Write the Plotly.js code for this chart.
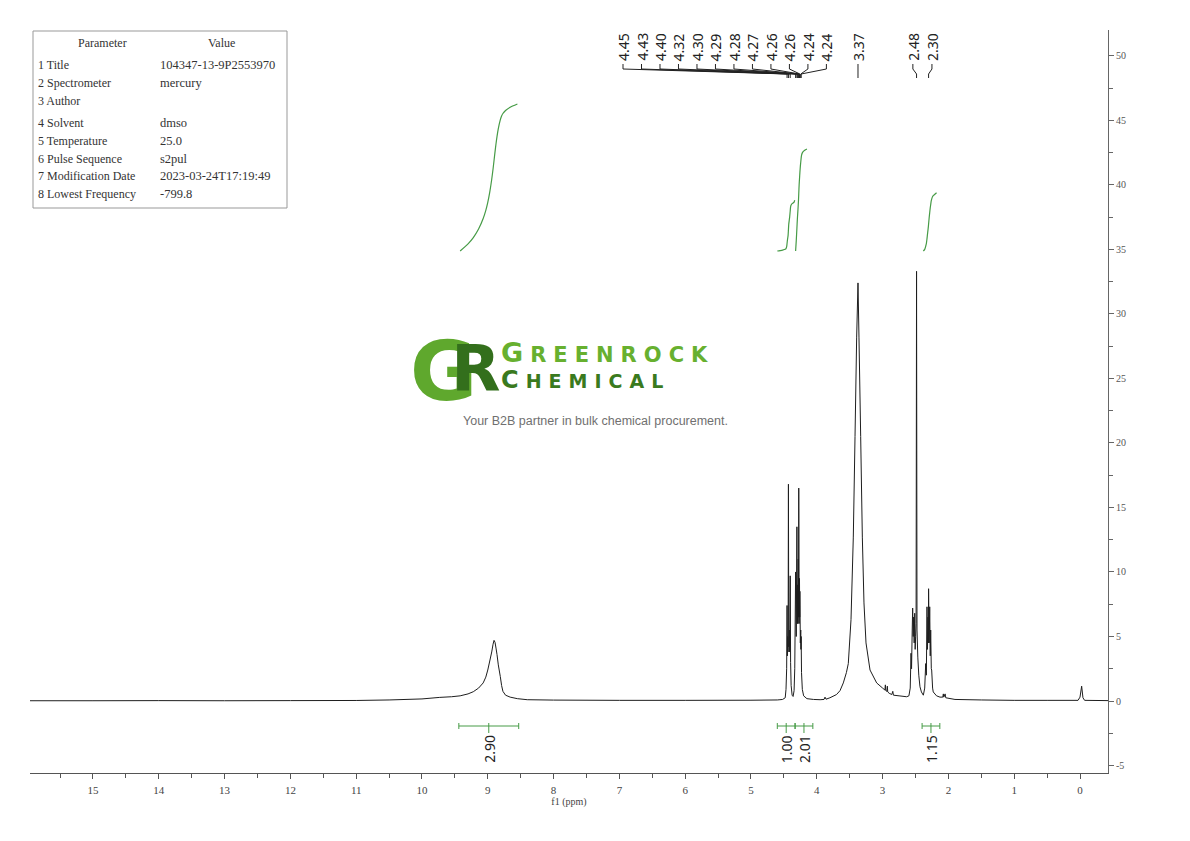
<!DOCTYPE html>
<html><head><meta charset="utf-8">
<script src="https://cdn.plot.ly/plotly-3.0.1.min.js"></script>
<style>html,body{margin:0;padding:0;background:#fff}#chart{width:1190px;height:841px}</style>
</head><body><div id="chart"></div>
<script>
// ---------- data ----------
const specPpm = [16.00,15.00,14.00,13.00,12.00,11.00,10.50,10.00,9.73,9.55,9.42,9.30,9.22,9.14,9.07,9.03,9.00,8.97,8.94,8.92,8.905,8.89,8.875,8.86,8.84,8.81,8.79,8.77,8.73,8.66,8.55,8.40,8.00,7.00,6.00,5.00,
4.60,4.56,4.52,4.48,4.468,4.458,4.452,4.447,4.441,4.436,4.431,4.426,4.418,4.412,4.404,4.398,4.39,4.375,4.36,4.345,4.335,4.322,4.312,4.302,4.296,4.290,4.286,4.282,4.278,4.274,4.268,4.263,4.260,4.257,4.250,4.244,4.241,4.238,4.232,4.22,4.20,4.15,4.05,
3.95,3.89,3.875,3.86,3.80,3.70,3.647,3.597,3.55,3.521,3.48,3.445,3.419,3.394,3.374,3.359,3.333,3.308,3.283,3.252,3.191,3.09,3.00,2.965,2.958,2.952,2.935,2.928,2.922,2.90,2.86,2.845,2.835,2.75,2.634,
2.60,2.58,2.568,2.56,2.55,2.543,2.535,2.528,2.52,2.512,2.505,2.498,2.491,2.484,2.477,2.465,2.45,2.432,2.41,2.381,2.36,2.345,2.335,2.325,2.318,2.310,2.305,2.301,2.292,2.284,2.276,2.269,2.26,2.254,2.24,2.23,2.18,2.128,2.085,2.077,2.07,2.05,2.04,1.90,1.50,1.00,0.50,0.03,0.00,-0.025,-0.045,-0.07,-0.43];
const specInt = [0.02,0.02,0.03,0.02,0.03,0.04,0.08,0.16,0.28,0.33,0.40,0.55,0.72,1.00,1.40,1.85,2.40,3.10,3.80,4.40,4.70,4.55,4.10,3.60,2.80,1.90,1.20,0.75,0.45,0.30,0.18,0.10,0.07,0.05,0.05,0.06,
0.08,0.10,0.12,0.25,0.9,2.5,7.4,3.5,5.0,3.8,16.8,4.2,5.5,3.8,9.7,3.0,1.2,0.45,0.35,0.8,2.5,10.0,5.0,13.5,6.0,9.0,6.0,11.0,6.5,16.5,6.0,9.5,6.5,8.5,4.5,5.5,4.0,5.0,2.2,0.9,0.4,0.18,0.12,
0.10,0.12,0.30,0.14,0.25,0.50,0.80,1.40,2.20,2.90,6.30,12.7,20.5,28.2,32.4,28.2,20.5,12.7,7.6,4.5,2.4,1.4,1.0,0.85,1.25,0.8,0.75,1.15,0.7,0.6,0.5,0.75,0.45,0.40,0.33,
0.40,1.0,3.7,2.5,5.5,7.2,5.0,6.5,4.5,6.8,4.0,5.0,6.0,33.3,5.5,3.4,2.0,1.1,0.7,0.45,1.0,2.9,2.0,7.3,4.0,6.5,4.5,8.7,4.5,7.3,3.5,5.5,2.5,2.4,1.0,0.7,0.40,0.30,0.30,0.55,0.30,0.55,0.25,0.12,0.08,0.05,0.05,0.05,0.30,1.15,0.25,0.05,0.03];

const peakLabelPpm = [4.452,4.431,4.404,4.322,4.302,4.290,4.282,4.274,4.263,4.257,4.244,4.238,3.374,2.484,2.301];

const integFrom   = [9.44, 4.60, 4.33, 2.40];
const integTo     = [8.53, 4.33, 4.06, 2.13];
const integValues = [2.90, 1.00, 2.01, 1.15];

const xTickVals = [0,1,2,3,4,5,6,7,8,9,10,11,12,13,14,15];
const yTickVals = [-5,0,5,10,15,20,25,30,35,40,45,50];

const paramNames  = ['Title','Spectrometer','Author','Solvent','Temperature','Pulse Sequence','Modification Date','Lowest Frequency'];
const paramValues = ['104347-13-9P2553970','mercury','','dmso','25.0','s2pul','2023-03-24T17:19:49','-799.8'];

// ---------- geometry ----------
const W=1190, H=841, L=30, R=82, T=30, B=68;
const plotW=W-L-R, plotH=H-T-B;
const xRange=[15.957,-0.4255], yRange=[-5.58,52.0];
const px2paperX = px => (px-L)/plotW;
const px2paperY = py => (H-B-py)/plotH;
const yAt = py => yRange[0]+(yRange[1]-yRange[0])*px2paperY(py);

const GREEN='rgb(70,155,70)';
const serif='Liberation Serif';
const sans='Noto Sans';

const traces=[];
const shapes=[];
const annotations=[];

// spectrum
traces.push({x:specPpm,y:specInt,type:'scatter',mode:'lines',line:{color:'#1e1e1e',width:1,simplify:false},hoverinfo:'skip'});

// integral curves (cumulative area of the spectrum, scaled to the integral value)
const integBase = yAt(251), integPerUnit = 3.93;
for(let k=0;k<integValues.length;k++){
  const xs=[],ys=[],cums=[]; let cum=0, prev=-1;
  for(let i=0;i<specPpm.length;i++){
    const p=specPpm[i];
    if(p<=integFrom[k] && p>=integTo[k]){
      if(prev>=0) cum += (specPpm[prev]-p)*(specInt[prev]+specInt[i])/2;
      xs.push(p); cums.push(cum); prev=i;
    }
  }
  const tot=cums[cums.length-1];
  for(const c of cums) ys.push(integBase + c/tot*integValues[k]*integPerUnit);
  traces.push({x:xs,y:ys,type:'scatter',mode:'lines',line:{color:GREEN,width:1.2,shape:'spline',smoothing:0.6},hoverinfo:'skip'});
}

// integration bars + labels
const barY=yAt(726), tickH=(yAt(723)-yAt(726));
for(let k=0;k<integValues.length;k++){
  const a=integFrom[k], b=integTo[k], c=(a+b)/2;
  const ln={type:'line',xref:'x',yref:'y',line:{color:GREEN,width:1}};
  shapes.push(Object.assign({},ln,{x0:a,x1:b,y0:barY,y1:barY}));
  shapes.push(Object.assign({},ln,{x0:a,x1:a,y0:barY-tickH,y1:barY+tickH}));
  shapes.push(Object.assign({},ln,{x0:b,x1:b,y0:barY-tickH,y1:barY+tickH}));
  shapes.push(Object.assign({},ln,{x0:c,x1:c,y0:barY+tickH,y1:yAt(733)}));
  annotations.push({x:c,y:yAt(733),xref:'x',yref:'y',text:integValues[k].toFixed(2),showarrow:false,textangle:-90,
    xanchor:'center',yanchor:'top',font:{family:sans,size:14,color:'#222'}});
}

// peak labels with leader lines
const groupStart=6.945, groupStep=0.281;
const labelX = peakLabelPpm.map((p,i)=> i<12 ? groupStart-i*groupStep : (i===12 ? p : (i===13 ? 2.54 : 2.25)));
const lx=[], ly=[];
const yA=yAt(64), yB=yAt(69), yC=yAt(74), yD=yAt(78);
peakLabelPpm.forEach((p,i)=>{
  lx.push(labelX[i],labelX[i],p,p,null); ly.push(yA,yB,yC,yD,null);
  annotations.push({x:labelX[i],y:yAt(63),xref:'x',yref:'y',text:p.toFixed(2),showarrow:false,textangle:-90,
    xanchor:'center',yanchor:'bottom',font:{family:sans,size:14,color:'#222'}});
});
traces.push({x:lx,y:ly,type:'scatter',mode:'lines',line:{color:'#222',width:1},hoverinfo:'skip',connectgaps:false});

// parameter table
shapes.push({type:'rect',xref:'paper',yref:'paper',x0:px2paperX(33),x1:px2paperX(287),y0:px2paperY(31),y1:px2paperY(208),line:{color:'#999',width:1},fillcolor:'rgba(255,255,255,0)'});
const tfont={family:serif,size:12,color:'#333'};
annotations.push({xref:'paper',yref:'paper',x:px2paperX(102),y:px2paperY(43),text:'Parameter',showarrow:false,xanchor:'center',yanchor:'middle',font:tfont});
annotations.push({xref:'paper',yref:'paper',x:px2paperX(221),y:px2paperY(43),text:'Value',showarrow:false,xanchor:'center',yanchor:'middle',font:tfont});
const rowY=[65,83,101,123,141,159,176,194];
paramNames.forEach((n,i)=>{
  annotations.push({xref:'paper',yref:'paper',x:px2paperX(36),y:px2paperY(rowY[i]),text:(i+1)+' '+n,showarrow:false,xanchor:'left',yanchor:'middle',font:tfont});
  if(paramValues[i]) annotations.push({xref:'paper',yref:'paper',x:px2paperX(158),y:px2paperY(rowY[i]),text:paramValues[i],showarrow:false,xanchor:'left',yanchor:'middle',font:{family:serif,size:12.5,color:'#333'}});
});

// logo / watermark
annotations.push({xref:'paper',yref:'paper',x:px2paperX(408),y:px2paperY(372),align:'left',
  text:'<span style="font-size:82px;letter-spacing:-26px">G</span><span style="color:#336f1c;baseline-shift:9px">R</span>',
  showarrow:false,xanchor:'left',yanchor:'middle',
  font:{family:'DejaVu Sans',size:64,color:'#5fa82d',weight:'bold'}});
annotations.push({xref:'paper',yref:'paper',x:px2paperX(499),y:px2paperY(365),align:'left',
  text:'<span style="font-size:27px;letter-spacing:7px">G</span><span style="font-size:21px;letter-spacing:7px">REENROCK</span><br>'+
       '<span style="color:#3a7a1e;font-size:24px;letter-spacing:7px">C</span><span style="color:#3a7a1e;font-size:19px;letter-spacing:7px">HEMICAL</span>',
  showarrow:false,xanchor:'left',yanchor:'middle',
  font:{family:'DejaVu Sans',size:20,color:'#67b02f',weight:'bold'}});
annotations.push({xref:'paper',yref:'paper',x:px2paperX(595),y:px2paperY(421),text:'Your B2B partner in bulk chemical procurement.',showarrow:false,xanchor:'center',yanchor:'middle',
  font:{family:'Liberation Sans',size:12.5,color:'#707070'}});

// minor ticks
const xMinor=[], yMinor=[];
for(let v=-0.5; v<=16; v+=1) xMinor.push(v);
for(let v=-2.5; v<=52; v+=5) yMinor.push(v);

const layout={
  width:W,height:H,margin:{l:L,r:R,t:T,b:B},paper_bgcolor:'#fff',plot_bgcolor:'#fff',showlegend:false,
  font:{family:serif,color:'#444'},
  xaxis:{range:xRange,showgrid:false,zeroline:false,showline:true,linecolor:'#555',linewidth:1,
    ticks:'outside',ticklen:5,tickcolor:'#555',tickmode:'array',tickvals:xTickVals,ticktext:xTickVals.map(String),
    tickfont:{family:serif,size:11,color:'#444'},ticklabelstandoff:2,
    minor:{tickmode:'array',tickvals:xMinor,ticks:'outside',ticklen:4,tickcolor:'#555'},
    title:{text:'f1 (ppm)',font:{family:serif,size:10,color:'#444'},standoff:2},automargin:false},
  yaxis:{range:yRange,side:'right',showgrid:false,zeroline:false,showline:true,linecolor:'#666',linewidth:1,
    ticks:'outside',ticklen:5,tickcolor:'#666',tickmode:'array',tickvals:yTickVals,ticktext:yTickVals.map(String),
    tickfont:{family:serif,size:10,color:'#555'},
    minor:{tickmode:'array',tickvals:yMinor,ticks:'outside',ticklen:4,tickcolor:'#666'},automargin:false},
  shapes:shapes,annotations:annotations
};
Plotly.newPlot('chart',traces,layout,{displayModeBar:false,staticPlot:true});
</script></body></html>
